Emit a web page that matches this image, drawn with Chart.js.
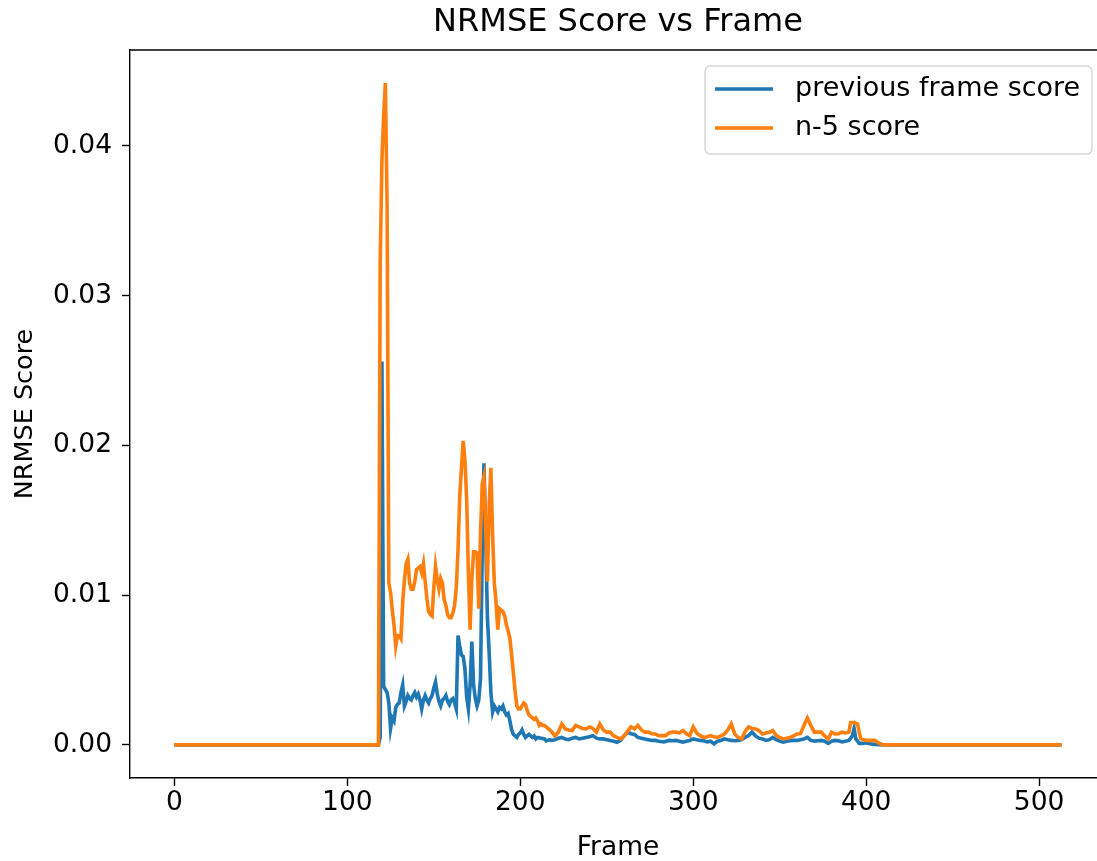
<!DOCTYPE html>
<html>
<head>
<meta charset="utf-8">
<script src="https://cdn.jsdelivr.net/npm/chart.js@4.4.1/dist/chart.umd.min.js"></script>
<style>
  html, body { margin: 0; padding: 0; background: #fff; overflow: hidden; }
  #wrap { width: 1110px; height: 861px; }
</style>
</head>
<body>
<div id="wrap"><canvas id="chart" width="1110" height="861"></canvas></div>
<script>
// frames and scores (zero stretches kept as their end points)
const prevFrames = [0,118,119,120,121,122,123,124,125,126,127,128,129,130,131,132,133,134,135,136,137,138,139,140,
  141,142,143,144,145,146,147,148,149,150,151,152,153,154,155,156,157,158,159,160,161,162,163,164,165,166,167,168,169,170,
  171,172,173,174,175,176,177,178,179,180,181,182,183,184,185,186,187,188,189,190,191,192,193,194,195,196,197,198,199,200,
  201,202,203,204,205,206,207,208,209,210,212,214,215,217,218,220,222,224,226,228,230,232,234,236,238,240,242,244,246,248,
  250,252,254,256,258,260,262,264,266,268,270,272,274,276,278,280,283,286,288,290,292,294,296,298,300,302,304,306,308,310,
  312,314,316,318,320,322,324,326,328,330,332,334,336,338,340,342,344,346,348,350,352,354,356,358,360,362,364,366,368,370,
  372,374,376,378,380,382,384,386,388,390,392,393,394,396,398,400,402,404,406,408,410,513];
const prevScores = [0,0,0.0005,0.0256,0.0039,0.0037,0.0035,0.0028,0.0011,0.0018,0.0016,0.0025,0.0027,0.0028,0.0035,0.0040,0.0026,0.0029,0.0033,0.0031,0.0030,0.0033,0.0035,0.0032,
  0.0034,0.0030,0.0024,0.0030,0.0033,0.0030,0.0028,0.0031,0.0033,0.0038,0.0042,0.0034,0.0029,0.0026,0.0030,0.0031,0.0033,0.0029,0.0027,0.0030,0.0031,0.0028,0.0024,0.0073,0.0066,0.0060,0.0059,0.0051,0.0032,0.0024,
  0.0040,0.0069,0.0040,0.0031,0.0026,0.0030,0.0044,0.0129,0.0188,0.0139,0.0085,0.0062,0.0035,0.0022,0.0026,0.0024,0.0022,0.0025,0.0024,0.0026,0.0022,0.0020,0.0021,0.0016,0.0010,0.0007,0.0006,0.0005,0.0007,0.0008,
  0.0010,0.0007,0.0005,0.0006,0.0007,0.0006,0.0005,0.0006,0.0004,0.0005,0.00045,0.0004,0.00027,0.00035,0.0003,0.00035,0.00045,0.0005,0.0004,0.00035,0.00045,0.0005,0.0004,0.00045,0.0005,0.00055,0.00062,0.00045,0.0004,0.0004,
  0.00035,0.0003,0.00025,0.00018,0.0003,0.0006,0.00085,0.00075,0.0007,0.0005,0.00045,0.0004,0.00035,0.0003,0.0003,0.00025,0.0002,0.0003,0.00028,0.0003,0.00025,0.00018,0.00025,0.0003,0.0004,0.00035,0.0003,0.00028,0.0002,0.00025,
  0.00007,0.00025,0.0003,0.0004,0.00035,0.0003,0.00028,0.0003,0.00035,0.0005,0.00062,0.00085,0.0006,0.00045,0.0004,0.0003,0.00035,0.0005,0.00035,0.00025,0.00018,0.00025,0.00028,0.0003,0.0003,0.00035,0.0004,0.0005,0.0003,0.00025,
  0.00028,0.0003,0.00025,0.0001,0.00025,0.0003,0.00028,0.0002,0.00025,0.0003,0.0006,0.0011,0.0004,0.0001,0.0001,0.00015,0.00008,0.00005,0.00003,0.00001,0,0];

const n5Frames = [0,118,119,120,121,122,123,124,125,126,127,128,129,130,131,132,133,134,135,136,137,138,139,140,
  141,142,143,144,145,146,147,148,149,150,151,152,153,154,155,156,157,158,159,160,161,162,163,164,165,166,167,168,169,170,
  171,172,173,174,175,176,177,178,179,180,181,182,183,184,185,186,187,188,189,190,191,192,193,194,195,196,197,198,199,200,
  201,202,203,204,205,206,207,208,209,210,211,212,213,214,215,216,217,218,220,222,224,226,228,230,232,234,236,238,240,242,244,246,248,
  250,252,254,256,258,260,262,264,266,268,270,272,274,276,278,280,282,284,286,288,290,292,294,296,298,300,302,304,306,308,310,
  312,314,316,318,320,322,324,326,328,330,332,334,336,338,340,342,344,346,348,350,352,354,356,358,360,362,364,366,368,370,
  372,374,376,378,380,382,384,386,388,390,391,393,395,396,397,400,403,405,407,410,513];
const n5Scores = [0,0,0.032,0.039,0.042,0.0442,0.036,0.0108,0.0102,0.0090,0.0080,0.0066,0.0073,0.0073,0.0071,0.0095,0.0110,0.0121,0.0124,0.0108,0.0104,0.0104,0.0109,0.0117,
  0.0118,0.0119,0.0115,0.0121,0.0109,0.0098,0.0089,0.0087,0.0086,0.0105,0.0119,0.0110,0.0104,0.0111,0.0108,0.0097,0.0093,0.0087,0.0085,0.0085,0.0088,0.0093,0.0105,0.0130,0.0166,0.0185,0.0203,0.0190,0.0164,0.0115,
  0.0077,0.0111,0.0129,0.0129,0.0128,0.0091,0.0140,0.0174,0.0179,0.0145,0.0109,0.0160,0.0185,0.0140,0.0108,0.0095,0.0077,0.0091,0.0090,0.0089,0.0086,0.0080,0.0076,0.0071,0.0060,0.0048,0.0036,0.0026,0.0024,0.0024,
  0.0026,0.0028,0.0027,0.0023,0.0020,0.0019,0.0018,0.0017,0.0018,0.0016,0.0013,0.0014,0.0013,0.0013,0.0012,0.0011,0.0010,0.0009,0.0006,0.00085,0.0014,0.00107,0.0010,0.00096,0.0013,0.0012,0.0011,0.00107,0.0012,0.0011,0.00085,0.0014,0.0010,
  0.00085,0.00085,0.0006,0.0005,0.0004,0.0006,0.0009,0.0012,0.00107,0.0013,0.0010,0.00085,0.00085,0.00075,0.00073,0.00062,0.00062,0.00062,0.0008,0.00085,0.00085,0.0008,0.00096,0.00075,0.00062,0.0012,0.0008,0.00062,0.0005,0.00055,0.00062,
  0.00055,0.0005,0.0006,0.00073,0.0010,0.0014,0.00073,0.0005,0.0004,0.0009,0.0012,0.0011,0.00107,0.00096,0.00073,0.0008,0.00085,0.00096,0.00062,0.0005,0.0004,0.00045,0.0005,0.0006,0.00073,0.00075,0.0013,0.0018,0.0013,0.00085,
  0.00085,0.00085,0.0006,0.0004,0.00085,0.00073,0.00075,0.00085,0.0008,0.00085,0.0015,0.0015,0.0014,0.0008,0.0004,0.0003,0.0003,0.0003,0.00013,0,0];

const seriesLabels = ['previous frame score', 'n-5 score'];
const seriesColors = ['#1f77b4', '#ff7f0e'];
const xTicks = [0, 100, 200, 300, 400, 500];
const yTicks = [0, 0.01, 0.02, 0.03, 0.04];
const chartTitle = 'NRMSE Score vs Frame';

const FONT = 'DejaVu Sans';

function toPoints(xs, ys) {
  return xs.map((x, i) => ({x: x, y: ys[i]}));
}

// title over the axes, top spine and a matplotlib style legend
const boxPlugin = {
  id: 'boxPlugin',
  afterDraw(chart) {
    const ctx = chart.ctx;
    const a = chart.chartArea;
    ctx.save();
    ctx.fillStyle = '#000';
    ctx.font = '32px "' + FONT + '"';
    ctx.textAlign = 'center';
    ctx.textBaseline = 'middle';
    ctx.fillText(chartTitle, (a.left + a.right) / 2, 23);

    ctx.strokeStyle = '#000';
    ctx.lineWidth = 1.4;
    ctx.beginPath();
    ctx.moveTo(a.left, a.top);
    ctx.lineTo(a.right, a.top);
    ctx.stroke();

    const bx = 705, by = 66, bw = 387, bh = 88, r = 5;
    ctx.beginPath();
    ctx.moveTo(bx + r, by);
    ctx.arcTo(bx + bw, by, bx + bw, by + bh, r);
    ctx.arcTo(bx + bw, by + bh, bx, by + bh, r);
    ctx.arcTo(bx, by + bh, bx, by, r);
    ctx.arcTo(bx, by, bx + bw, by, r);
    ctx.closePath();
    ctx.fillStyle = 'rgba(255,255,255,0.8)';
    ctx.fill();
    ctx.strokeStyle = '#d6d6d6';
    ctx.lineWidth = 1.4;
    ctx.stroke();

    ctx.font = '27px "' + FONT + '"';
    ctx.textBaseline = 'middle';
    ctx.textAlign = 'left';
    seriesLabels.forEach((lab, i) => {
      const y = 89 + i * 39;
      ctx.strokeStyle = seriesColors[i];
      ctx.lineWidth = 3.6;
      ctx.beginPath();
      ctx.moveTo(715, y);
      ctx.lineTo(773, y);
      ctx.stroke();
      ctx.fillStyle = '#000';
      ctx.fillText(lab, 795, y);
    });
    ctx.restore();
  }
};

new Chart(document.getElementById('chart'), {
  type: 'line',
  data: {
    datasets: [{
      label: seriesLabels[0],
      data: toPoints(prevFrames, prevScores),
      borderColor: seriesColors[0],
      borderWidth: 3.6,
      pointRadius: 0,
      tension: 0,
      order: 2
    }, {
      label: seriesLabels[1],
      data: toPoints(n5Frames, n5Scores),
      borderColor: seriesColors[1],
      borderWidth: 3.6,
      pointRadius: 0,
      tension: 0,
      order: 1
    }]
  },
  options: {
    responsive: false,
    animation: false,
    layout: { padding: { left: 0, right: 4, top: 50, bottom: 0 } },
    plugins: {
      legend: { display: false },
      tooltip: { enabled: false },
      title: { display: false }
    },
    scales: {
      x: {
        type: 'linear',
        min: -25.65,
        max: 538.65,
        afterFit(scale) { scale.height = 83; },
        afterBuildTicks(scale) { scale.ticks = xTicks.map(v => ({value: v})); },
        ticks: { color: '#000', font: { family: FONT, size: 26.5 }, padding: 1, maxRotation: 0 },
        grid: { display: true, drawOnChartArea: false, drawTicks: true, tickLength: 8, tickWidth: 1.4, tickColor: '#000' },
        border: { display: true, color: '#000', width: 1.4 },
        title: {
          display: true, text: 'Frame', color: '#000',
          font: { family: FONT, size: 26.5, lineHeight: 1.0 },
          padding: { top: 0, bottom: 0 }
        }
      },
      y: {
        type: 'linear',
        min: -0.00221,
        max: 0.0464,
        afterFit(scale) { scale.width = 130; },
        afterBuildTicks(scale) { scale.ticks = yTicks.map(v => ({value: v})); },
        ticks: { color: '#000', font: { family: FONT, size: 26.5 }, padding: 10, callback: v => v.toFixed(2) },
        grid: { display: true, drawOnChartArea: false, drawTicks: true, tickLength: 8, tickWidth: 1.4, tickColor: '#000' },
        border: { display: true, color: '#000', width: 1.4 },
        title: {
          display: true, text: 'NRMSE Score', color: '#000',
          font: { family: FONT, size: 25.5, lineHeight: 1.2 },
          padding: { top: 10, bottom: 0 }
        }
      }
    }
  },
  plugins: [boxPlugin]
});
</script>
</body>
</html>
